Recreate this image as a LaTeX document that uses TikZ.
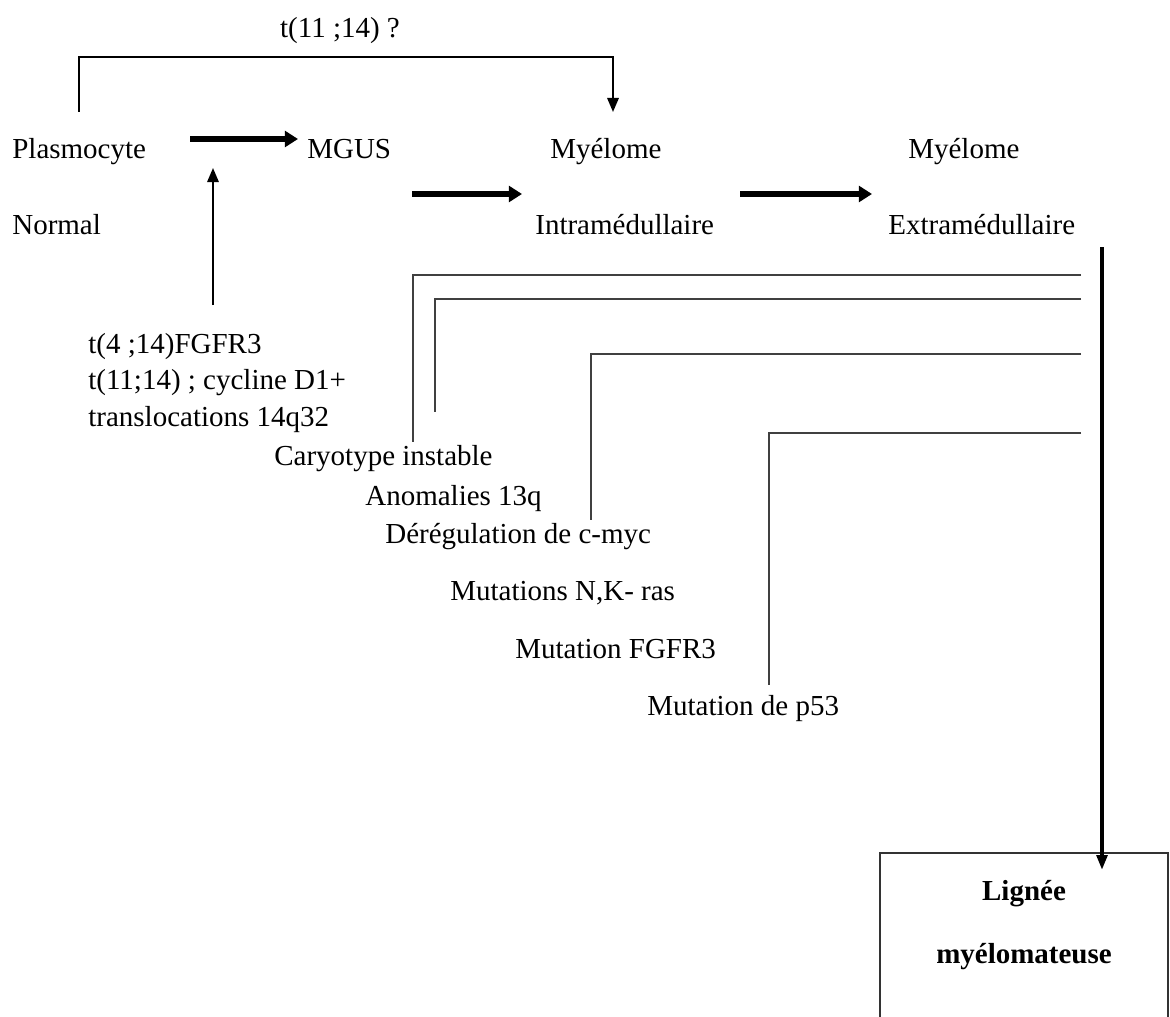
\documentclass[tikz,border=0pt]{standalone}
\usepackage{fontspec}
\setmainfont{Liberation Serif}
\usetikzlibrary{arrows.meta}
\tikzstyle{stage} = [inner sep=0pt, anchor=base west, font=\fontsize{16.5}{20.5}\selectfont]
\tikzstyle{fatarrow} = [line width=3.2pt, -{Triangle[length=7.5pt, width=9pt]}]
\tikzstyle{thinarrow} = [line width=1.1pt, -{Triangle[length=8pt, width=6.5pt]}]
\tikzstyle{eventline} = [draw=black!75, line width=1.1pt]
\tikzstyle{dropline} = [line width=2.6pt, -{Triangle[length=8.5pt, width=6pt]}]
\tikzstyle{resultbox} = [draw=black!80, line width=1.1pt, rectangle,
    minimum width=5.76cm, minimum height=3.6cm, anchor=north]
\tikzstyle{resulttext} = [align=center, inner sep=0pt, font=\fontsize{16.5}{35.7}\selectfont\bfseries]

\begin{document}
\begin{tikzpicture}[x=0.02cm, y=-0.02cm]
\useasboundingbox (0,0) rectangle (1170,1017);
% stages
\node[stage] (plasmo) at (12,158) {Plasmocyte};
\node[stage] (normal) at (12,235) {Normal};
\node[stage] (mgus) at (307,158) {MGUS};
\node[stage] (myelA) at (550,158) {Myélome};
\node[stage] (intra) at (535,235) {Intramédullaire};
\node[stage] (myelB) at (908,158) {Myélome};
\node[stage] (extra) at (888,235) {Extramédullaire};
\node[stage, anchor=base] (ttop) at (340,38) {t(11 ;14) ?};
\node[stage, align=left] (trans) at (88,426) {t(4 ;14)FGFR3\\t(11;14) ; cycline D1+\\translocations 14q32};
% events
\node[stage] (cary) at (274,465) {Caryotype instable};
\node[stage] (anom) at (365,505) {Anomalies 13q};
\node[stage] (dereg) at (385,543) {Dérégulation de c-myc};
\node[stage] (nkras) at (450,600) {Mutations N,K- ras};
\node[stage] (fgfr) at (515,658) {Mutation FGFR3};
\node[stage] (pfiftythree) at (647,715) {Mutation de p53};
\node[resultbox] (box) at (1024,852) {};
\node[resulttext] (lignee) at (1024,925) {Lignée\\myélomateuse};

\coordinate (brL) at (79,112);
\coordinate (brR) at (613,112);
\draw[thinarrow] (brL) -- ++(0,-55) -| (brR);

\coordinate (a1s) at (190,139);
\coordinate (a1e) at (298,139);
\coordinate (a2s) at (412,194);
\coordinate (a2e) at (522,194);
\coordinate (a3s) at (740,194);
\coordinate (a3e) at (872,194);
\draw[fatarrow] (a1s) -- (a1e);
\draw[fatarrow] (a2s) -- (a2e);
\draw[fatarrow] (a3s) -- (a3e);

\coordinate (up) at (213,305);
\coordinate (upe) at (213,168);
\draw[thinarrow] (up) -- (upe);

% lines from the right
\coordinate (r1) at (1081,275);
\coordinate (r2) at (1081,299);
\coordinate (r3) at (1081,354);
\coordinate (r4) at (1081,433);
\coordinate (c1) at (413,442);
\coordinate (c2) at (435,412);
\coordinate (c3) at (591,520);
\coordinate (c4) at (769,685);
\draw[eventline] (r1) -| (c1);
\draw[eventline] (r2) -| (c2);
\draw[eventline] (r3) -| (c3);
\draw[eventline] (r4) -| (c4);

\coordinate (dtop) at (1102,247);
\coordinate (dend) at (1102,870);
\draw[dropline] (dtop) -- (dend);
\end{tikzpicture}
\end{document}
